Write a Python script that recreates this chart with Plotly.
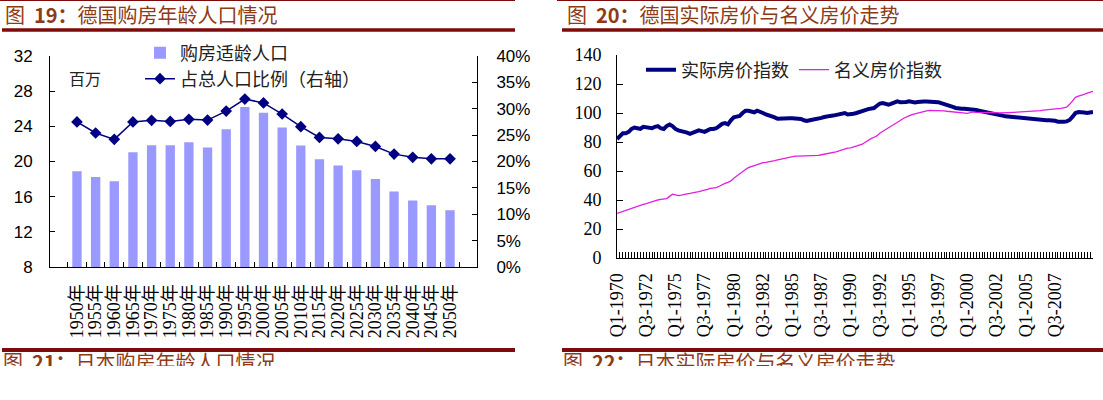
import plotly.graph_objects as go

# ---------------- data: left chart ----------------
years = ["1950年", "1955年", "1960年", "1965年", "1970年", "1975年", "1980年",
         "1985年", "1990年", "1995年", "2000年", "2005年", "2010年", "2015年",
         "2020年", "2025年", "2030年", "2035年", "2040年", "2045年", "2050年"]
pop_million = [18.9, 18.25, 17.76, 21.06, 21.86, 21.86, 22.2, 21.6, 23.68, 26.19,
               25.54, 23.87, 21.82, 20.26, 19.54, 19.0, 18.0, 16.58, 15.56, 15.02, 14.45]
share_pct = [27.5, 25.4, 24.2, 27.5, 27.8, 27.6, 28.0, 27.85, 29.56, 31.84,
             31.1, 29.0, 26.6, 24.56, 24.3, 23.8, 22.85, 21.4, 20.8, 20.5, 20.5]

# ---------------- data: right chart ----------------
quarters = [f"Q{q}-{y}" for y in range(1970, 2011) for q in (1, 2, 3, 4)]
quarter_ticktext = [q if (i % 10 == 0 and i <= 150) else "" for i, q in enumerate(quarters)]

real_index = [
    82, 84, 86, 86, 87, 89, 90, 89.5, 89, 90.5,
    90, 90, 89.5, 90.5, 91, 89.5, 89, 91, 92, 91,
    89, 88, 87.5, 87.5, 86.5, 85.6, 86.5, 87.5, 88, 87.5,
    87, 88, 89, 89, 89.5, 91, 92.5, 93, 92.2, 95,
    97, 97.5, 98, 100, 101.6, 101.5, 101, 100.5, 101.6, 101,
    100, 99, 98.5, 97.8, 97, 96, 96.2, 96.3, 96.3, 96.3,
    96.3, 96.3, 96.2, 95.9, 95, 94.5, 95, 95.3, 95.5, 96,
    96.6, 97.2, 97.8, 98, 98.2, 98.5, 98.9, 99.5, 100, 99,
    99, 99.5, 100, 100.5, 101, 102, 102.7, 103, 103.4, 105,
    106.5, 106.8, 106, 105.7, 106.5, 107.5, 108, 107.5, 107.3, 107.6,
    108, 107.6, 107.3, 107.6, 108, 108, 108, 108, 108, 108,
    107.5, 106.8, 106.3, 105.7, 105, 104.2, 103.5, 103, 103, 102.9,
    102.8, 102.5, 102.3, 102, 101.6, 101.2, 101, 100.8, 100.5, 99.8,
    99.3, 98.8, 98.2, 97.7, 97.5, 97.3, 97, 96.9, 96.8, 96.6,
    96.2, 95.8, 95.5, 95.3, 95.1, 95, 95, 95, 95, 95,
    94.6, 94, 93.8, 93.9, 94.2, 95.2, 97.5, 100, 100.6, 100.7,
    100.3, 100, 100.7, 100.8]

nominal_index = [
    30.8, 31.5, 32.4, 33.1, 33.6, 34.5, 35.4, 35.8, 36.4, 37,
    37.5, 38.2, 39, 39.5, 40, 40.4, 40.7, 41, 42.5, 44,
    43.5, 43, 43.4, 44, 44.3, 44.5, 44.8, 45.3, 45.8, 46.3,
    46.6, 47.4, 48, 48.3, 48.6, 49.5, 50.6, 51.4, 52.2, 53.2,
    55, 56.6, 58, 59.5, 61, 62.3, 63, 64, 64.6, 65.2,
    65.8, 66, 66.2, 66.6, 67.1, 67.6, 68.1, 68.6, 69.2, 69.6,
    70, 70.3, 70.3, 70.3, 70.3, 70.3, 70.3, 70.3, 70.4, 70.8,
    71.2, 71.5, 71.9, 72.3, 72.6, 73.2, 73.8, 74.5, 75.2, 75.8,
    76, 76.5, 77, 77.7, 78.5, 79.8, 81.3, 82.3, 83.3, 84.2,
    86, 87.5, 88.6, 89.8, 90.9, 92.2, 93.2, 94.8, 96.2, 97.3,
    98, 98.9, 99.5, 100, 100.5, 101, 101.5, 101.8, 101.8, 101.8,
    101.8, 101.8, 101.5, 101.2, 101, 100.8, 100.7, 100.5, 100.3, 100,
    99.8, 100.2, 100.7, 100.4, 100.2, 100, 100.2, 100.4, 100.5, 100.4,
    100.2, 100, 100, 100.1, 100.3, 100.5, 100.5, 100.6, 100.7, 100.7,
    100.8, 100.9, 101, 101.1, 101.2, 101.6, 102, 102.3, 102.5, 102.7,
    103, 103, 103.2, 103.6, 104, 106, 108.5, 110.8, 111.6, 112.1,
    112.9, 113.7, 114.5, 115]

# ---------------- texts ----------------
title_left = "图\u00a0\u00a0<b>19：</b>德国购房年龄人口情况"
title_right = "图\u00a0\u00a0<b>20：</b>德国实际房价与名义房价走势"
next_left = "图\u00a0\u00a0<b>21：</b>日本购房年龄人口情况"
next_right = "图\u00a0\u00a0<b>22：</b>日本实际房价与名义房价走势"

W, H = 1103, 400
def px(x):
    return x / W
def py(y):
    return 1 - y / H

RED = "#7E0B0B"
TITLE_C = "#8E3A17"
CJK = "Noto Sans CJK SC"
SERIF = "Liberation Serif, Noto Sans CJK SC"
SANS = "Liberation Sans, Noto Sans CJK SC"

fig = go.Figure()

# left chart
fig.add_trace(go.Bar(x=years, y=pop_million, name="购房适龄人口",
                     marker=dict(color="#9999FF", line=dict(width=0)),
                     xaxis="x", yaxis="y", legend="legend"))
fig.add_trace(go.Scatter(x=years, y=share_pct, name="占总人口比例（右轴）",
                         mode="lines+markers",
                         line=dict(color="#000080", width=1.5),
                         marker=dict(symbol="diamond", size=9, color="#000080"),
                         xaxis="x", yaxis="y2", legend="legend2"))

# right chart
fig.add_trace(go.Scatter(x=quarters, y=real_index, name="实际房价指数",
                         mode="lines", line=dict(color="#000080", width=4),
                         xaxis="x3", yaxis="y3", legend="legend3"))
fig.add_trace(go.Scatter(x=quarters, y=nominal_index, name="名义房价指数",
                         mode="lines", line=dict(color="#E020E0", width=1.3),
                         xaxis="x3", yaxis="y3", legend="legend3"))

# clipped captions of the following figures
fig.add_trace(go.Scatter(x=[3, 563], y=[364.5, 364.5], mode="text",
                         text=[next_left, next_right], textposition="middle right",
                         textfont=dict(family=CJK, size=20, color=TITLE_C),
                         cliponaxis=True, showlegend=False, hoverinfo="skip",
                         xaxis="x4", yaxis="y4"))

axis_common = dict(showgrid=False, zeroline=False, showline=True,
                   linecolor="black", linewidth=1, ticks="inside",
                   tickcolor="black", ticklen=5, automargin=False)

fig.update_layout(
    width=W, height=H, margin=dict(l=0, r=0, t=0, b=0, pad=0, autoexpand=False),
    paper_bgcolor="white", plot_bgcolor="rgba(0,0,0,0)",
    bargap=0.5, showlegend=True,
    xaxis=dict(axis_common, domain=[px(50), px(477)], anchor="y",
               type="category", tickson="boundaries", tickangle=-90,
               tickmode="array", tickvals=years, ticktext=years,
               tickfont=dict(family=SERIF, size=18, color="black"),
               ticklabelstandoff=9),
    yaxis=dict(axis_common, domain=[py(267), py(56)], anchor="x",
               range=[8, 32], dtick=4, tick0=8,
               tickfont=dict(family=SANS, size=17, color="black"),
               ticklabelstandoff=13),
    yaxis2=dict(axis_common, domain=[py(267), py(56)], anchor="x",
                overlaying="y", side="right", range=[0, 40], dtick=5,
                ticksuffix="%",
                tickfont=dict(family=SANS, size=17, color="black"),
                ticklabelstandoff=15),
    xaxis3=dict(axis_common, domain=[px(617), px(1093)], anchor="y3",
                type="category", tickmode="array", tickvals=quarters,
                ticktext=quarter_ticktext, tickangle=-90, ticklen=6,
                tickfont=dict(family=SERIF, size=18, color="black"),
                ticklabelstandoff=7),
    yaxis3=dict(axis_common, domain=[py(258), py(55)], anchor="x3",
                range=[0, 140], dtick=20, ticklen=6,
                tickfont=dict(family=SERIF, size=18, color="black"),
                ticklabelstandoff=11),
    xaxis4=dict(domain=[0, 1], range=[0, W], visible=False, anchor="y4",
                fixedrange=True, automargin=False),
    yaxis4=dict(domain=[py(366), py(352)], range=[366, 352], visible=False,
                anchor="x4", fixedrange=True, automargin=False),
    legend=dict(x=px(140), y=py(53), xanchor="left", yanchor="middle",
                bgcolor="rgba(0,0,0,0)", borderwidth=0,
                font=dict(family=CJK, size=18, color="#222222")),
    legend2=dict(x=px(140), y=py(79), xanchor="left", yanchor="middle",
                 bgcolor="rgba(0,0,0,0)", borderwidth=0,
                 font=dict(family=CJK, size=18, color="#222222")),
    legend3=dict(x=px(641), y=py(70), xanchor="left", yanchor="middle",
                 orientation="h", bgcolor="rgba(0,0,0,0)", borderwidth=0,
                 font=dict(family=CJK, size=18, color="#222222")),
)

# titles and decorative rules
ann = [
    dict(text=title_left, x=px(3), y=py(15)),
    dict(text=title_right, x=px(565), y=py(15)),
]
for a in ann:
    fig.add_annotation(xref="paper", yref="paper", xanchor="left", yanchor="middle",
                       showarrow=False, font=dict(family=CJK, size=20, color=TITLE_C), **a)
fig.add_annotation(text="百万", xref="paper", yref="paper", x=px(67), y=py(78),
                   xanchor="left", yanchor="middle", showarrow=False,
                   font=dict(family=CJK, size=16, color="#222222"))

rules = [
    (0, 515, 0.5, 1), (557, W, 0.5, 1),
    (2, 515, 30, 3.5), (562, W, 30, 3.5),
    (2, 515, 350, 4), (562, W, 350, 4),
]
for x0, x1, y, w in rules:
    fig.add_shape(type="line", xref="paper", yref="paper",
                  x0=px(x0), x1=px(x1), y0=py(y), y1=py(y),
                  line=dict(color=RED, width=w))

fig.write_html("out.html", config={"displayModeBar": False},
               post_script="document.body.style.margin='0px';")
